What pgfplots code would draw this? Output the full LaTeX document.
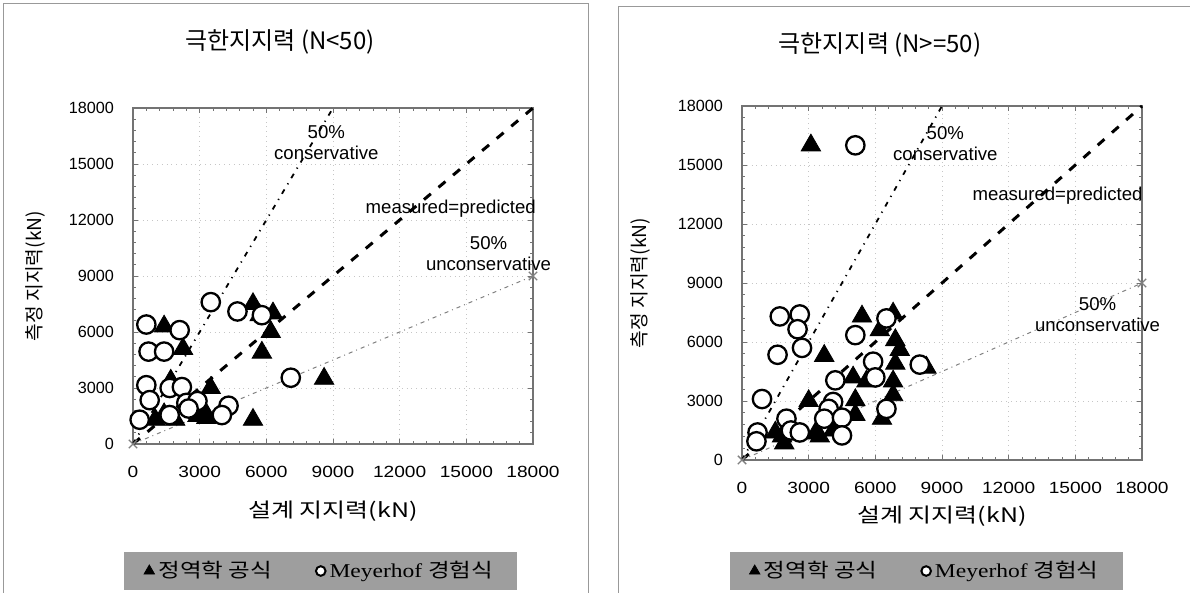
\documentclass[border=0pt]{standalone}
\usepackage{fontspec}
\setmainfont{Liberation Sans}
\newfontfamily\krfont{Noto Sans CJK KR}
\newfontfamily\serfont{Liberation Serif}
\usepackage{graphicx}
\usepackage{pgfplots}
\usepackage{pgfplotstable}
\pgfplotsset{compat=1.18}

\definecolor{legendgray}{gray}{0.62}
\definecolor{axisgray}{gray}{0.45}
\definecolor{framegray}{gray}{0.6}

% --- measured data: design capacity (x) vs measured capacity (y), kN ---
\pgfplotstableread{
x y
5400 7500
6300 7000
5700 6900
1400 6300
6200 6000
2250 5100
5800 4900
8600 3500
3500 3000
1700 3400
1000 1300
1400 1600
1900 1300
2900 1500
3200 1800
3300 1400
5400 1300
}\staticLow
\pgfplotstableread{
x y
3500 7600
4700 7100
5800 6900
600 6400
2100 6100
700 4950
1400 4950
7100 3550
600 3150
1650 3000
2200 3050
750 2350
2400 2200
2900 2300
2500 1900
4300 2050
4000 1550
1650 1550
300 1300
}\meyerLow
\pgfplotstableread{
x y
3100 16000
5400 7300
6800 7450
6200 6600
6900 6100
7100 5600
8300 4700
3700 5300
6900 4900
5000 4200
5600 4000
6800 4000
6800 3300
3000 3000
5100 3050
5100 2300
6300 2100
1500 1400
1800 1200
1900 850
3300 1350
3500 1200
4100 1500
4000 2000
}\staticHigh
\pgfplotstableread{
x y
5100 16000
1700 7300
2600 7400
2500 6650
1600 5350
2700 5700
5100 6350
6500 7200
8000 4850
5900 5000
6000 4200
4200 4050
900 3100
4100 2950
3900 2600
3700 2100
4500 2150
6500 2600
2000 2100
2200 1500
2600 1400
700 1400
650 950
4500 1250
}\meyerHigh

\tikzset{note/.style={font=\fontsize{9.3}{10.5}\selectfont, align=center, inner sep=0pt}}

\pgfplotsset{
  capchart/.style={
    scale only axis, width=200pt,
    xmin=0, xmax=18000, ymin=0, ymax=18000,
    xtick={0,3000,...,18000}, ytick={0,3000,...,18000},
    minor tick num=4,
    tick align=inside,
    major tick length=2.5pt, minor tick length=1.5pt,
    tick style={axisgray, line width=0.4pt},
    axis line style={axisgray, line width=0.6pt},
    grid=major, major grid style={gray!45, dotted, line width=0.4pt},
    scaled ticks=false,
    /pgf/number format/1000 sep={},
    /pgf/number format/assume math mode=true,
    tick label style={font=\fontsize{8.1}{9}\selectfont},
    xticklabel={\scalebox{1.18}[1]{\pgfmathprintnumber{\tick}}},
    yticklabel style={xshift=-6pt},
    xticklabel style={yshift=-7.5pt},
    xlabel={\scalebox{1.25}[1]{\krfont 설계 지지력(kN)}},
    ylabel={\krfont 측정 지지력(kN)},
    xlabel style={font=\fontsize{10}{11}\selectfont},
    ylabel style={font=\fontsize{9.6}{11}\selectfont},
    every axis title shift=0pt,
    title style={font=\fontsize{12}{14}\selectfont\krfont, anchor=center, yshift=0pt},
    clip=false,
    legend style={fill=legendgray, draw=none, legend columns=2,
      inner xsep=10pt, inner ysep=2.8pt, anchor=center,
      font=\fontsize{9.8}{10.5}\selectfont, text=black,
      /tikz/every even column/.append style={column sep=20pt}},
    legend cell align=left,
  },
  triset/.style={only marks, mark=triangle*, mark size=5.6pt,
    mark options={draw=black, fill=black}, forget plot},
  cirset/.style={only marks, mark=*, mark size=4.6pt,
    mark options={draw=black, fill=white, line width=1.15pt}, forget plot},
  oneline/.style={black, line width=1.5pt, dash pattern=on 4.5pt off 5pt, forget plot},
  consline/.style={black, line width=0.9pt, dash pattern=on 2.5pt off 3pt on 0.6pt off 3pt, forget plot},
  unconsline/.style={gray, line width=0.5pt, dash pattern=on 2pt off 2pt on 0.5pt off 2pt,
    mark=x, mark size=3pt, mark options={solid, gray, line width=0.7pt}, forget plot},
}

\newcommand\legendentries{%
  \addlegendimage{legend image code/.code={\draw plot[mark=triangle*, mark size=3pt, mark options={draw=black, fill=black}] coordinates {(3pt,0pt)};}}
  \addlegendentry{\scalebox{1.2}[1]{\krfont 정역학 공식}}
  \addlegendimage{legend image code/.code={\draw plot[mark=*, mark size=2.4pt, mark options={draw=black, fill=white, line width=1pt}] coordinates {(3pt,0pt)};}}
  \addlegendentry{\scalebox{1.2}[1]{\serfont Meyerhof \krfont 경험식}}%
}

\begin{document}
\begin{tikzpicture}
\useasboundingbox (0,0) rectangle (595pt,296.5pt);
% panel frames
\draw[framegray, line width=0.4pt] (1.5pt,0pt) -- (1.5pt,295pt) -- (294pt,295pt) -- (294pt,0pt);
\draw[framegray, line width=0.4pt] (309pt,0pt) -- (309pt,293.5pt) -- (595pt,293.5pt);

% ---------------- N < 50 ----------------
\begin{axis}[capchart, height=168pt,
  at={(66.5pt,74.5pt)}, anchor=south west,
  title={극한지지력 (N<50)},
  title style={at={(rel axis cs:0.3675,1.196)}},
  xlabel style={at={(rel axis cs:0.5,-0.199)}, anchor=center},
  ylabel style={at={(rel axis cs:-0.245,0.5)}, anchor=center},
  legend style={at={(rel axis cs:0.469,-0.378)}},
]
\addplot[oneline] coordinates {(0,0) (18000,18000)};
\addplot[consline] coordinates {(0,0) (9000,18000)};
\addplot[unconsline] coordinates {(0,0) (18000,9000)};
\addplot[triset] table {\staticLow};
\addplot[cirset] table {\meyerLow};
\node[note] at (axis cs:8700,16150) {50\%\\conservative};
\node[note] at (axis cs:14300,12600) {measured=predicted};
\node[note] at (axis cs:16000,10200) {50\%\\unconservative};
\legendentries
\end{axis}

% ---------------- N >= 50 ----------------
\begin{axis}[capchart, height=177pt,
  at={(371pt,66.5pt)}, anchor=south west,
  title={극한지지력 (N>=50)},
  title style={at={(rel axis cs:0.345,1.172)}},
  xlabel style={at={(rel axis cs:0.5,-0.158)}, anchor=center},
  ylabel style={at={(rel axis cs:-0.255,0.5)}, anchor=center},
  legend style={at={(rel axis cs:0.46,-0.3136)}},
]
\addplot[oneline] coordinates {(0,0) (18000,18000)};
\addplot[consline] coordinates {(0,0) (9000,18000)};
\addplot[unconsline] coordinates {(0,0) (18000,9000)};
\addplot[triset] table {\staticHigh};
\addplot[cirset] table {\meyerHigh};
\node[note] at (axis cs:9150,16100) {50\%\\conservative};
\node[note] at (axis cs:14200,13450) {measured=predicted};
\node[note] at (axis cs:16000,7370) {50\%\\unconservative};
\legendentries
\end{axis}
\end{tikzpicture}
\end{document}
